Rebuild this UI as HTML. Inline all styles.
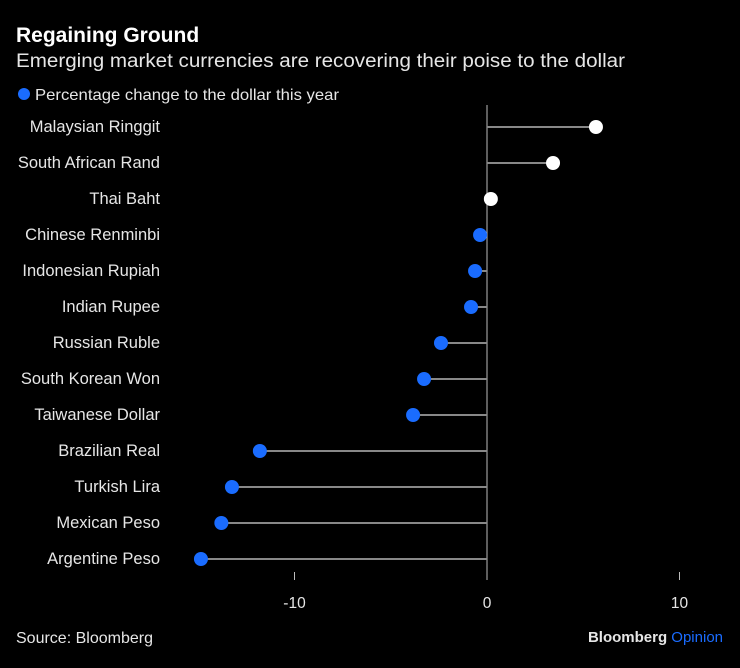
<!DOCTYPE html>
<html><head><meta charset="utf-8"><style>
body{margin:0;background:#000;width:740px;height:663px;overflow:hidden;font-family:"Liberation Sans",sans-serif;color:#fff}
</style></head><body>
<svg width="740" height="663">
<text x="16" y="42" font-size="21" font-weight="bold" fill="#fff">Regaining Ground</text>
<text x="16" y="67" font-size="19" fill="#e6e6e6" textLength="609" lengthAdjust="spacingAndGlyphs">Emerging market currencies are recovering their poise to the dollar</text>
<circle cx="24" cy="94" r="6" fill="#1a6cff"/>
<text x="35" y="100" font-size="16" fill="#e6e6e6" textLength="304" lengthAdjust="spacingAndGlyphs">Percentage change to the dollar this year</text>
<g id="plot"></g>
<text x="16" y="643" font-size="16" fill="#e6e6e6">Source: Bloomberg</text>
<text x="723" y="642" font-size="15" font-weight="bold" fill="#e6e6e6" text-anchor="end">Bloomberg <tspan fill="#1a6cff" font-weight="normal">Opinion</tspan></text>
</svg>
<script>
const categories=["Malaysian Ringgit","South African Rand","Thai Baht","Chinese Renminbi","Indonesian Rupiah","Indian Rupee","Russian Ruble","South Korean Won","Taiwanese Dollar","Brazilian Real","Turkish Lira","Mexican Peso","Argentine Peso"];
const values=[5.66,3.43,0.2,-0.36,-0.62,-0.83,-2.39,-3.27,-3.84,-11.8,-13.25,-13.8,-14.86];
const tickValues=[-10,0,10];
const tickLabels=["-10","0","10"];
const NS="http://www.w3.org/2000/svg";
const g=document.getElementById('plot');
function x(v){return 487+v*19.25;}
function y(i){return 127+i*36;}
function mk(t,a){const e=document.createElementNS(NS,t);for(const k in a)e.setAttribute(k,a[k]);g.appendChild(e);return e;}
let zl=mk('line',{x1:x(0),x2:x(0),y1:105,y2:580,stroke:'#bbb','stroke-width':1});


tickValues.forEach((v,i)=>{
  if(v!==0){let t=mk('line',{x1:x(v),x2:x(v),y1:572,y2:580,stroke:'#bbb','stroke-width':1});
  
  }
  let l=mk('text',{x:x(v),y:608,'font-size':15.5,fill:'#e6e6e6','text-anchor':'middle'});
  l.textContent=tickLabels[i];
  
  
});
categories.forEach((c,i)=>{
  let t=mk('text',{x:160,y:y(i)+5,'font-size':16.5,fill:'#e6e6e6','text-anchor':'end'});
  t.textContent=c;
  
  
  let s=mk('line',{x1:x(0),x2:x(values[i]),y1:y(i),y2:y(i),stroke:'#888','stroke-width':2});
  
  
  let d=mk('circle',{cx:x(values[i]),cy:y(i),r:7,fill:values[i]>0?'#fff':'#1a6cff'});
  
  
});
</script>
</body></html>
